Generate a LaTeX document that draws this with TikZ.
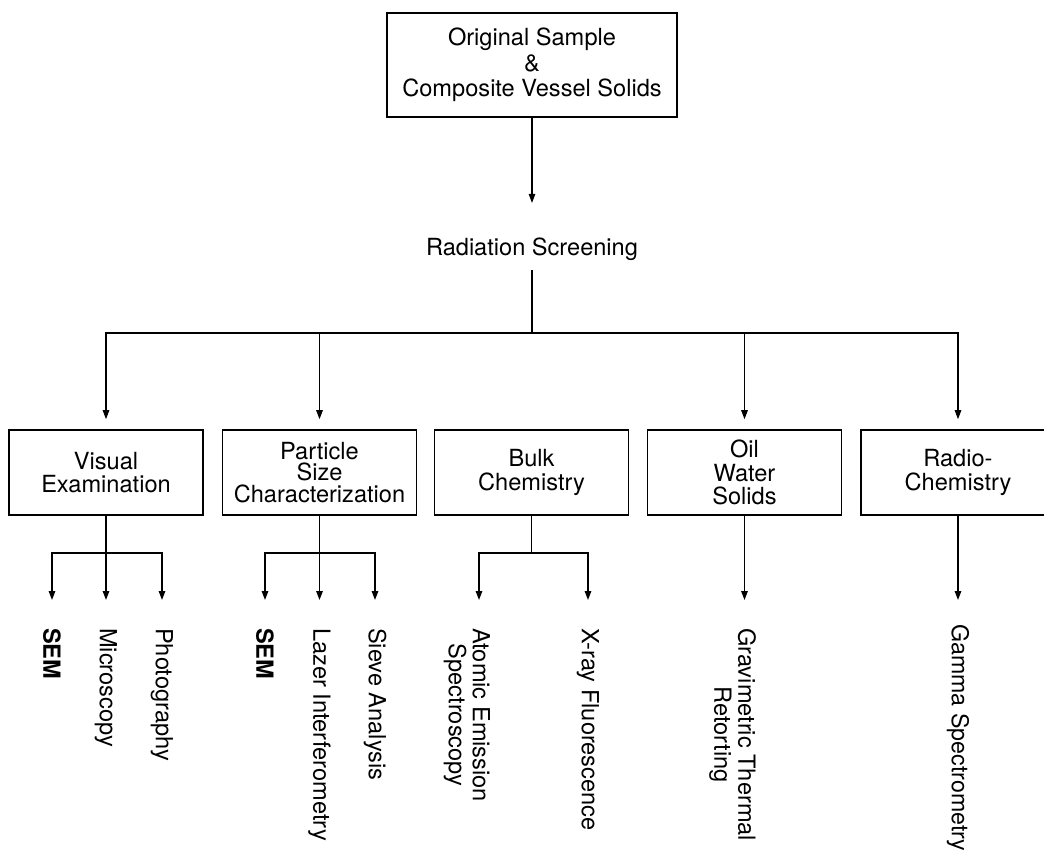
\documentclass[tikz,border=0pt]{standalone}
\usepackage{fontspec}
\setmainfont{TeX Gyre Heros}
\usetikzlibrary{arrows.meta}
\begin{document}
\begin{tikzpicture}[x=1pt,y=-1pt,
  txt/.style={font=\fontsize{23.6}{23.5}\selectfont},
  box/.style={txt, draw, line width=1.6pt, minimum width=194pt, minimum height=85pt, align=center, inner sep=0pt},
  conn/.style={line width=1.1pt},
  arr/.style={conn, -{Triangle[length=9pt,width=6.5pt]}},
  subarr/.style={line width=1.4pt, -{Triangle[length=9pt,width=6.5pt]}},
  lab/.style={txt, rotate=-90, anchor=west, inner sep=0pt, align=center},
  boldlab/.style={lab, font=\fontsize{23.6}{23.5}\selectfont\bfseries}
]
\useasboundingbox (0,0) rectangle (1044,855);
\clip (0,0) rectangle (1044,855);

% top
\node[box, minimum width=290pt, minimum height=104pt, font=\fontsize{23.6}{25.5}\selectfont] (top) at (532,65) {Original Sample\\\&\\Composite Vessel Solids};
\node[txt, inner sep=9pt] (rs) at (532,249.5) {Radiation Screening};
\draw[arr, shorten >=26pt] (top.south) -- (rs.north);
\coordinate (hub) at (532,333);
\draw[conn] (rs.south) -- (hub);

% second level
\node[box] (vis) at (106,472.5) {Visual\\Examination};
\node[box, font=\fontsize{23.6}{21.5}\selectfont] (psc) at (319.5,472.5) {Particle\\Size\\Characterization};
\node[box] (bulk) at (531.5,472.5) {Bulk\\Chemistry};
\node[box] (ows) at (744.5,472.5) {Oil\\Water\\Solids};
\node[box] (radio) at (958,472.5) {Radio-\\Chemistry};

\draw[arr, shorten >=10pt] (hub) -| (vis.north);
\draw[arr, shorten >=10pt] (hub) -| (psc.north);
\draw[arr, shorten >=10pt] (hub) -| (ows.north);
\draw[arr, shorten >=10pt] (hub) -| (radio.north);

% Visual examination branch
\coordinate (vj) at (106,553);
\coordinate (v1) at (52,600);
\coordinate (v2) at (106,600);
\coordinate (v3) at (162,600);
\draw[conn] (vis.south) -- (vj);
\draw[subarr] (vj) -| (v1);
\draw[subarr] (vj) -- (v2);
\draw[subarr] (vj) -| (v3);
\node[boldlab] (vsem) at (52,628) {SEM};
\node[lab] (vmic) at (106,628) {Microscopy};
\node[lab] (vpho) at (162,628) {Photography};

% Particle size branch
\coordinate (pj) at (319.5,553);
\coordinate (p1) at (265,600);
\coordinate (p2) at (319.5,600);
\coordinate (p3) at (375,600);
\draw[conn] (psc.south) -- (pj);
\draw[subarr] (pj) -| (p1);
\draw[subarr] (pj) -- (p2);
\draw[subarr] (pj) -| (p3);
\node[boldlab] (psem) at (265,628) {SEM};
\node[lab] (plaz) at (319.5,628) {Lazer Interferometry};
\node[lab] (psie) at (375,628) {Sieve Analysis};

% Bulk chemistry branch
\coordinate (bj) at (531.5,553);
\coordinate (b1) at (479,600);
\coordinate (b2) at (588,600);
\draw[conn] (bulk.south) -- (bj);
\draw[subarr] (bj) -| (b1);
\draw[subarr] (bj) -| (b2);
\node[lab, font=\fontsize{23.6}{24}\selectfont] (baes) at (467,628) {Atomic Emission\\Spectroscopy};
\node[lab] (bxrf) at (588,628) {X-ray Fluorescence};

% Oil water solids branch
\coordinate (o1) at (744.5,600);
\draw[subarr] (ows.south) -- (o1);
\node[lab, font=\fontsize{23.6}{24}\selectfont] (ogtr) at (732.5,628) {Gravimetric Thermal\\Retorting};

% Radiochemistry branch
\coordinate (r1) at (958,600);
\draw[subarr] (radio.south) -- (r1);
\node[lab, font=\fontsize{23.2}{23.5}\selectfont] (rgam) at (958,624) {Gamma Spectrometry};
\end{tikzpicture}
\end{document}
